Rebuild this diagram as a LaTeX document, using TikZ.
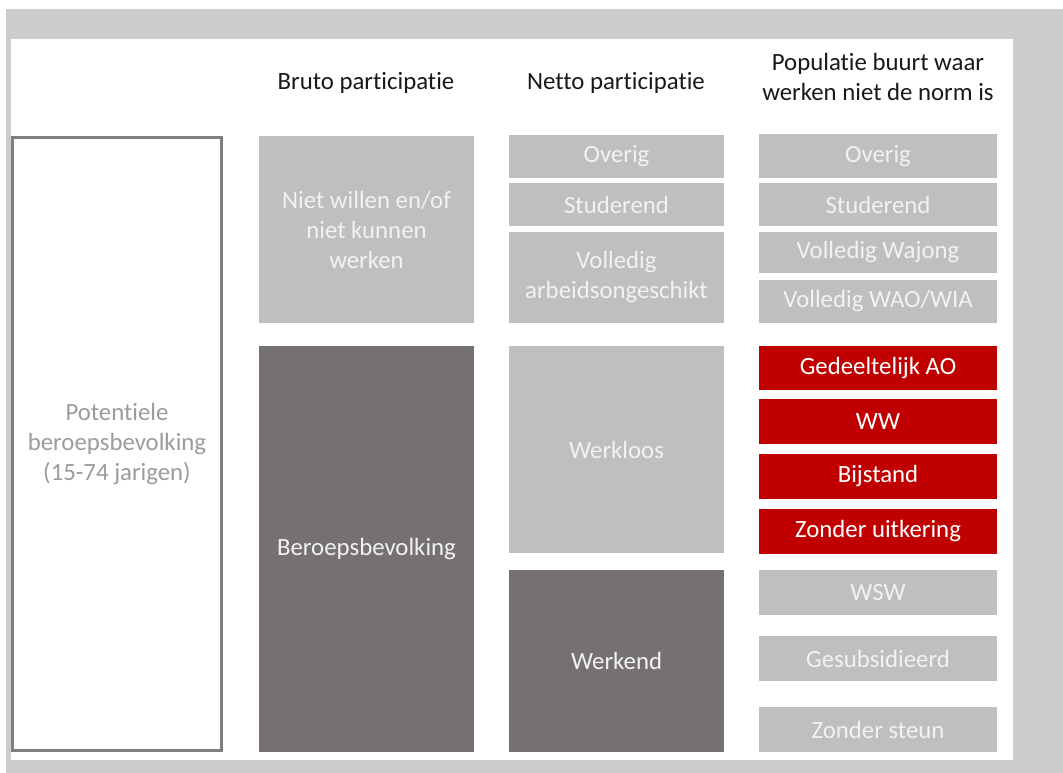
\documentclass[tikz,border=0pt]{standalone}
\usepackage{fontspec}
\setmainfont{Carlito}[RawFeature={-liga;-clig;-dlig;-calt}]
\usetikzlibrary{positioning}
\definecolor{framegray}{HTML}{CCCCCC}
\definecolor{boxgray}{HTML}{BFBFBF}
\definecolor{darkbox}{HTML}{767171}
\definecolor{redbox}{HTML}{C00000}
\definecolor{linegray}{HTML}{808080}
\definecolor{softtext}{HTML}{9C9C9C}
\tikzset{
    bw/.style = {minimum width=#1*0.75pt},
    bh/.style = {minimum height=#1*0.75pt},
    cell/.style =   {rectangle,
                    anchor=north west,
                    inner sep=0pt,
                    outer sep=0pt,
                    align=center,
                    font=\fontsize{18.6}{22.5}\selectfont},
    light/.style =  {cell,
                    fill=boxgray,
                    text=white!95!black},
    dark/.style =   {cell,
                    fill=darkbox,
                    text=white!95!black},
    alert/.style =  {cell,
                    fill=redbox,
                    text=white},
    outline/.style ={rectangle,
                    draw=linegray,
                    line width=2.25pt,
                    fill=white,
                    text=softtext,
                    inner sep=0pt,
                    align=center,
                    font=\fontsize{18.6}{22.5}\selectfont},
    head/.style =   {align=center,
                    text=black!90,
                    font=\fontsize{18.6}{22.5}\selectfont}
}

\begin{document}
\begin{tikzpicture}[x=0.75pt,y=-0.75pt]
    \useasboundingbox (0,0) rectangle (1063,773);
    \fill[framegray] (6,9) rectangle (1063,773);
    \fill[white] (11,39) rectangle (1013,760);

    % headers
    \node[head] (hbruto)  at (366,83) {Bruto participatie};
    \node[head] (hnetto)  at (616,83) {Netto participatie};
    \node[head] (hbuurt)  at (878,77) {Populatie buurt waar\\werken niet de norm is};

    % potentiele beroepsbevolking
    \node[outline,bw=209,bh=613] (pot) at (117,444)
        {Potentiele\\beroepsbevolking\\(15-74 jarigen)};

    % bruto
    \node[light,bw=215,bh=187] (niet) at (259,136) {Niet willen en/of\\niet kunnen\\werken};
    \node[dark,bw=215,bh=406]  (bb)   at (259,346) {Beroepsbevolking};

    % netto
    \node[light,bw=215,bh=43]  (nov)  at (509,135) {Overig};
    \node[light,bw=215,bh=43]  (nst)  at (509,183) {Studerend};
    \node[light,bw=215,bh=91]  (nao)  at (509,232) {Volledig\\arbeidsongeschikt};
    \node[light,bw=215,bh=207] (nwl)  at (509,346) {Werkloos};
    \node[dark,bw=215,bh=182]  (nwk)  at (509,570) {Werkend};

    % buurt
    \node[light,bw=238,bh=44]  (pov)  at (759,134) {Overig};
    \node[light,bw=238,bh=43]  (pst)  at (759,183) {Studerend};
    \node[light,bw=238,bh=41]  (pwj)  at (759,232) {Volledig Wajong};
    \node[light,bw=238,bh=43]  (pwao) at (759,280) {Volledig WAO/WIA};
    \node[alert,bw=238,bh=44]  (pgao) at (759,346) {Gedeeltelijk AO};
    \node[alert,bw=238,bh=45]  (pww)  at (759,399) {WW};
    \node[alert,bw=238,bh=45]  (pbs)  at (759,454) {Bijstand};
    \node[alert,bw=238,bh=45]  (pzu)  at (759,509) {Zonder uitkering};
    \node[light,bw=238,bh=45]  (pwsw) at (759,570) {WSW};
    \node[light,bw=238,bh=45]  (pgs)  at (759,636) {Gesubsidieerd};
    \node[light,bw=238,bh=45]  (pzs)  at (759,707) {Zonder steun};
\end{tikzpicture}
\end{document}
